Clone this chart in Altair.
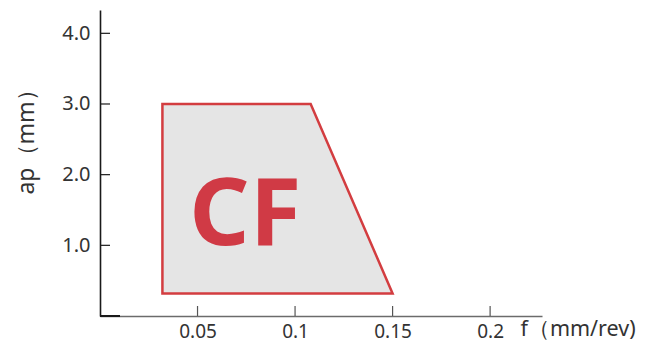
import altair as alt
import pandas as pd

# Region outline (feed f in mm/rev, depth of cut ap in mm)
region_f = [0.032, 0.108, 0.15]
region_ap_top = [3.0, 3.0, 0.32]
region_ap_bottom = [0.32, 0.32, 0.32]

x_ticks = [0.05, 0.1, 0.15, 0.2]
y_ticks = [1.0, 2.0, 3.0, 4.0]

label_text = ["CF"]
label_f = [0.0745]
label_ap = [1.0]

X_MAX = 0.2266
Y_MAX = 4.33
W, H = 442, 306

FONT = "Noto Sans"
RED = "#d03a45"

region = pd.DataFrame({"f": region_f, "top": region_ap_top, "bottom": region_ap_bottom})
xt = pd.DataFrame({"f": x_ticks})
yt = pd.DataFrame({"ap": y_ticks})
lab = pd.DataFrame({"t": label_text, "f": label_f, "ap": label_ap})

xscale = alt.Scale(domain=[0, X_MAX], nice=False, zero=False)
yscale = alt.Scale(domain=[0, Y_MAX], nice=False, zero=False)

xaxis = alt.Axis(
    values=x_ticks, format=".2~f", ticks=False, tickSize=0, grid=False,
    domainColor="#6b6b6b", domainWidth=1.5,
    labelFont=FONT, labelFontSize=19, labelColor="#333333", labelPadding=6,
    title="f（mm/rev)", titleFont=FONT, titleFontSize=21.5, titleFontWeight="normal",
    titleColor="#333333", titleX=420, titleY=19, titleAlign="left",
    titleBaseline="alphabetic",
)
yaxis = alt.Axis(
    values=y_ticks, format=".1f", ticks=False, tickSize=0, grid=False,
    domainColor="#1a1a1a", domainWidth=1.6,
    labelFont=FONT, labelFontSize=20, labelColor="#333333", labelPadding=10,
    title="ap（mm）", titleFont=FONT, titleFontSize=23, titleFontWeight="normal",
    titleColor="#333333", titleAngle=270, titleX=-74, titleY=126,
    titleAlign="center", titleBaseline="middle",
)

area = alt.Chart(region).mark_area(
    fill="#e5e5e5", stroke="#d33d40", strokeWidth=2.5, opacity=1
).encode(
    x=alt.X("f:Q", scale=xscale, axis=xaxis),
    y=alt.Y("top:Q", scale=yscale, axis=yaxis),
    y2="bottom:Q",
)

xtick_rules = alt.Chart(xt).mark_rule(color="#555555", strokeWidth=1.2).encode(
    x=alt.X("f:Q", scale=xscale),
    y=alt.value(H - 10),
    y2=alt.value(H),
)

ytick_rules = alt.Chart(yt).mark_rule(color="#1a1a1a", strokeWidth=1.2).encode(
    y=alt.Y("ap:Q", scale=yscale),
    x=alt.value(0),
    x2=alt.value(10),
)

corner = alt.Chart(xt).mark_rule(color="#1a1a1a", strokeWidth=1.6).encode(
    x=alt.value(0), x2=alt.value(20), y=alt.value(H)
)

text = alt.Chart(lab).mark_text(
    font=FONT, fontSize=94, fontWeight="bold", color=RED,
    align="center", baseline="alphabetic",
).encode(
    x=alt.X("f:Q", scale=xscale),
    y=alt.Y("ap:Q", scale=yscale),
    text="t:N",
)

chart = alt.layer(area, xtick_rules, ytick_rules, corner, text).properties(
    width=W, height=H,
    autosize=alt.AutoSizeParams(type="none"),
    padding={"left": 92, "top": 2, "right": 96, "bottom": 27},
).configure(background="white").configure_view(stroke=None)

chart.save("out.html", embed_options={"renderer": "svg", "actions": False})
